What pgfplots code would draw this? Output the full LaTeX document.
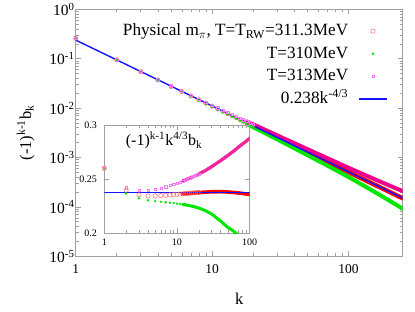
\documentclass[border=0pt]{standalone}
\usepackage{fontspec}
\setmainfont{Liberation Serif}
\usepackage{pgfplots}
\usepackage{pgfplotstable}
\pgfplotsset{compat=1.18}
\definecolor{mygreen}{RGB}{0,230,0}
\definecolor{myblue}{RGB}{20,20,255}
\definecolor{framegray}{RGB}{160,160,160}
\definecolor{lightred}{RGB}{255,90,90}
\definecolor{lightmag}{RGB}{245,120,245}

% k, f = (-1)^{k-1} k^{4/3} b_k (inset), b = (-1)^{k-1} b_k (main)
\pgfplotstableread{
k f b
1 0.2603 0.2603
2 0.2400 0.095244
3 0.2357 0.054475
4 0.2347 0.036963
5 0.2347 0.027451
6 0.2350 0.021554
7 0.2353 0.017572
8 0.2356 0.014725
9 0.2359 0.012601
10 0.2362 0.010963
11 0.2364 0.0096633
12 0.2366 0.0086120
13 0.2368 0.0077469
14 0.2370 0.0070240
15 0.2372 0.0064120
16 0.2373 0.0058857
17 0.2375 0.0054333
18 0.2376 0.0050366
19 0.2377 0.0046882
20 0.2378 0.0043803
25 0.2382 0.0032586
30 0.2385 0.0025586
40 0.2386 0.0017442
50 0.2383 0.0012937
60 0.2379 0.0010120
75 0.2372 0.00075010
100 0.2360 0.00050844
125 0.2357 0.00037712
150 0.2355 0.00029548
175 0.2354 0.00024046
200 0.2353 0.00020118
225 0.2352 0.00017187
250 0.2352 0.00014934
}\redT

\pgfplotstableread{
k f b
1 0.2603 0.2603
2 0.2369 0.094014
3 0.2325 0.053735
4 0.2306 0.036317
5 0.2297 0.026866
6 0.2292 0.021022
7 0.2288 0.017087
8 0.2284 0.014275
9 0.2280 0.012179
10 0.2276 0.010564
11 0.2272 0.0092873
12 0.2268 0.0082553
13 0.2264 0.0074067
14 0.2260 0.0066980
15 0.2256 0.0060984
16 0.2252 0.0055856
17 0.2248 0.0051428
18 0.2243 0.0047547
19 0.2239 0.0044159
20 0.2234 0.0041150
25 0.2208 0.0030205
30 0.2178 0.0023366
40 0.2112 0.0015439
50 0.2055 0.0011156
60 0.2020 0.00085933
75 0.1960 0.00061981
100 0.1870 0.00040287
125 0.1780 0.00028480
150 0.1700 0.00021330
175 0.1630 0.00016650
200 0.1560 0.00013338
225 0.1500 0.00010961
250 0.1440 0.000091434
}\greenT

\pgfplotstableread{
k f b
1 0.2603 0.2603
2 0.2422 0.096117
3 0.2397 0.055399
4 0.2400 0.037798
5 0.2409 0.028176
6 0.2420 0.022196
7 0.2432 0.018162
8 0.2444 0.015275
9 0.2455 0.013114
10 0.2466 0.011446
11 0.2476 0.010121
12 0.2486 0.0090488
13 0.2495 0.0081624
14 0.2504 0.0074211
15 0.2512 0.0067904
16 0.2520 0.0062504
17 0.2528 0.0057833
18 0.2536 0.0053758
19 0.2543 0.0050156
20 0.2550 0.0046971
25 0.2585 0.0035363
30 0.2618 0.0028086
40 0.2675 0.0019554
50 0.2722 0.0014777
60 0.2762 0.0011750
75 0.2815 0.00089019
100 0.2880 0.00062047
125 0.2960 0.00047360
150 0.3030 0.00038017
175 0.3095 0.00031615
200 0.3160 0.00027018
225 0.3220 0.00023530
250 0.3280 0.00020827
}\magT

\begin{document}
\begin{tikzpicture}
\begin{axis}[
  at={(0pt,0pt)}, anchor=south west,
  scale only axis, width=327pt, height=247pt,
  xmode=log, ymode=log,
  xmin=1, xmax=250, ymin=1e-5, ymax=1,
  xtick={1,10,100}, xticklabels={1,10,100},
  ytick={1e-5,1e-4,1e-3,1e-2,1e-1,1},
  yticklabels={10\textsuperscript{-5},10\textsuperscript{-4},10\textsuperscript{-3},10\textsuperscript{-2},10\textsuperscript{-1},10\textsuperscript{0}},
  axis line style={framegray, line width=0.8pt},
  tick style={framegray, line width=0.6pt},
  major tick length=5pt, minor tick length=3pt,
  xticklabel style={font=\fontsize{13.5}{16}\selectfont, yshift=-5pt},
  yticklabel style={font=\fontsize{15.5}{18}\selectfont, inner xsep=1pt},
  label style={font=\fontsize{16.5}{19}\selectfont},
  xlabel={k}, ylabel={(-1)\textsuperscript{k-1}b\textsubscript{k}},
  xlabel style={at={(axis description cs:0.5,-0.17)}, anchor=center},
  ylabel style={at={(axis description cs:-0.153,0.5)}, anchor=center},
  legend style={draw=none, fill=none, font=\fontsize{17.2}{21}\selectfont,
    at={(0.955,0.9526)}, anchor=north east, inner sep=0pt,
    row sep=2.9pt, column sep=9pt,
    nodes={inner sep=1pt, text height=13.3pt, text depth=4.5pt}},
  legend cell align=right, legend plot pos=right,
  legend image code/.code={\draw[mark repeat=2,mark phase=2,#1] plot coordinates {(0pt,0pt) (14pt,0pt) (28pt,0pt)};},
]
\addplot[red, line width=4.5pt, line cap=round, forget plot, skip coords between index={0}{17}] table[x=k,y=b]{\redT};
\addplot[lightred, only marks, mark=o, mark size=2.2pt, mark options={line width=0.45pt}, skip coords between index={20}{40}] table[x=k,y=b]{\redT};
\addlegendentry{Physical m\textsubscript{$\pi$}, T=T\textsubscript{RW}=311.3MeV}
\addplot[mygreen, line width=4pt, line cap=round, forget plot, skip coords between index={0}{17}] table[x=k,y=b]{\greenT};
\addplot[mygreen, only marks, mark=*, mark size=1.1pt, skip coords between index={20}{40}] table[x=k,y=b]{\greenT};
\addlegendentry{T=310MeV}
\addplot[magenta, line width=4pt, line cap=round, forget plot, skip coords between index={0}{17}] table[x=k,y=b]{\magT};
\addplot[lightmag, only marks, mark=square, mark size=1.2pt, mark options={line width=0.45pt}, skip coords between index={20}{40}] table[x=k,y=b]{\magT};
\addlegendentry{T=313MeV}
\addplot[myblue, line width=1.4pt, legend image code/.code={\draw[myblue, line width=1.6pt] (0pt,0pt) -- (28pt,0pt);}] coordinates {(1,0.238) (250,0.00015112)};
\addlegendentry{0.238k\textsuperscript{-4/3}}
\end{axis}

\begin{axis}[
  at={(28.6pt,23pt)}, anchor=south west,
  scale only axis, width=145.4pt, height=107.8pt,
  xmode=log, xmin=1, xmax=100, ymin=0.2, ymax=0.3,
  xtick={1,10,100}, xticklabels={1,10,100},
  ytick={0.2,0.25,0.3}, yticklabels={0.2,0.25,0.3},
  minor y tick num=0,
  axis line style={framegray, line width=0.8pt},
  tick style={framegray, line width=0.6pt},
  major tick length=5pt, minor tick length=3pt,
  ticklabel style={font=\fontsize{10}{12}\selectfont},
  xticklabel style={yshift=-2pt},
  yticklabel style={xshift=-4pt},
]
\addplot[red, line width=3.6pt, line cap=round, skip coords between index={0}{11}] table[x=k,y=f]{\redT};
\addplot[lightred, only marks, mark=o, mark size=2.2pt, mark options={line width=0.45pt}, skip coords between index={20}{40}] table[x=k,y=f]{\redT};
\addplot[mygreen, line width=3pt, line cap=round, skip coords between index={0}{11}] table[x=k,y=f]{\greenT};
\addplot[mygreen, only marks, mark=*, mark size=1pt, skip coords between index={20}{40}] table[x=k,y=f]{\greenT};
\addplot[magenta!85, line width=3.3pt, line cap=round, skip coords between index={0}{11}] table[x=k,y=f]{\magT};
\addplot[lightmag, only marks, mark=square, mark size=1.1pt, mark options={line width=0.45pt}, skip coords between index={20}{40}] table[x=k,y=f]{\magT};
\addplot[myblue, line width=1.3pt] coordinates {(1,0.238) (100,0.238)};
\node[anchor=base west, inner sep=0pt, font=\fontsize{16}{19}\selectfont] at (rel axis cs:0.147,0.81) {(-1)\textsuperscript{k-1}k\textsuperscript{4/3}b\textsubscript{k}};
\end{axis}
\pgfresetboundingbox
\path (-75.7pt,-55.7pt) rectangle (339.3pt,256.3pt);
\end{tikzpicture}
\end{document}
